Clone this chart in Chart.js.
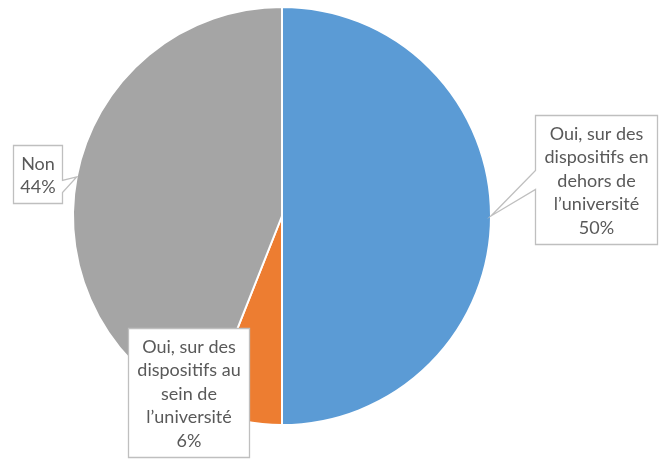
<!DOCTYPE html>
<html><head><meta charset="utf-8">
<script src="https://cdn.jsdelivr.net/npm/chart.js@4.4.0/dist/chart.umd.min.js"></script>
<style>html,body{margin:0;padding:0;background:#fff}#wrap{width:667px;height:459px;position:relative}</style>
</head><body><div id="wrap"><canvas id="c" width="667" height="459"></canvas></div>
<script>
const categories = ["Oui, sur des dispositifs en dehors de l\u2019universit\u00e9", "Oui, sur des dispositifs au sein de l\u2019universit\u00e9", "Non"];
const values = [50, 6, 44];
const percentLabels = ["50%", "6%", "44%"];
const labelLines = [
  ["Oui, sur des", "dispositifs en", "dehors de", "l\u2019universit\u00e9"],
  ["Oui, sur des", "dispositifs au", "sein de", "l\u2019universit\u00e9"],
  ["Non"]
];
const colors = ["#5B9BD5", "#ED7D31", "#A5A5A5"];

// box layout relative to pie center (dx,dy of box top-left, w,h), wedge side
const boxes = [
  {dx: 253, dy: -101, w: 122, h: 129, side: 'left', b1: 55, b2: 74},
  {dx: -154, dy: 112, w: 121, h: 129, side: null},
  {dx: -269, dy: -71, w: 49, h: 58, side: 'right', b1: 35, b2: 47}
];

const calloutPlugin = {
  id: 'callouts',
  afterDatasetsDraw(chart) {
    const ctx = chart.ctx;
    const meta = chart.getDatasetMeta(0);
    ctx.save();
    ctx.font = '18px Lato, "Open Sans", sans-serif';
    meta.data.forEach((arc, i) => {
      const b = boxes[i];
      const cx = arc.x, cy = arc.y;
      const mid = (arc.startAngle + arc.endAngle) / 2;
      const tx = cx + Math.cos(mid) * arc.outerRadius;
      const ty = cy + Math.sin(mid) * arc.outerRadius;
      const x = Math.round(cx + b.dx) + 0.5, y = Math.round(cy + b.dy) + 0.5;
      ctx.beginPath();
      ctx.moveTo(x, y);
      if (b.side === 'right') {
        ctx.lineTo(x + b.w, y);
        ctx.lineTo(x + b.w, y + b.b1);
        ctx.lineTo(tx, ty);
        ctx.lineTo(x + b.w, y + b.b2);
        ctx.lineTo(x + b.w, y + b.h);
        ctx.lineTo(x, y + b.h);
        ctx.closePath();
      } else if (b.side === 'left') {
        ctx.lineTo(x + b.w, y);
        ctx.lineTo(x + b.w, y + b.h);
        ctx.lineTo(x, y + b.h);
        ctx.lineTo(x, y + b.b2);
        ctx.lineTo(tx, ty);
        ctx.lineTo(x, y + b.b1);
        ctx.closePath();
      } else {
        ctx.rect(x, y, b.w, b.h);
      }
      ctx.fillStyle = '#ffffff';
      ctx.fill();
      ctx.lineWidth = 1.3;
      ctx.strokeStyle = '#BFBFBF';
      ctx.stroke();
      const lines = labelLines[i].concat([percentLabels[i]]);
      const lh = 23.6;
      const startY = y + b.h / 2 - (lines.length - 1) * lh / 2;
      ctx.fillStyle = '#595959';
      ctx.textAlign = 'center';
      ctx.textBaseline = 'middle';
      lines.forEach((t, k) => ctx.fillText(t, x + b.w / 2, startY + k * lh + 1));
    });
    ctx.restore();
  }
};

new Chart(document.getElementById('c'), {
  type: 'pie',
  data: {
    labels: categories,
    datasets: [{ data: values, backgroundColor: colors, borderColor: '#ffffff', borderWidth: 2 }]
  },
  options: {
    responsive: false,
    animation: false,
    layout: { padding: { left: 72, right: 175, top: 6, bottom: 33 } },
    plugins: { legend: { display: false }, tooltip: { enabled: false } }
  },
  plugins: [calloutPlugin]
});
</script></body></html>
